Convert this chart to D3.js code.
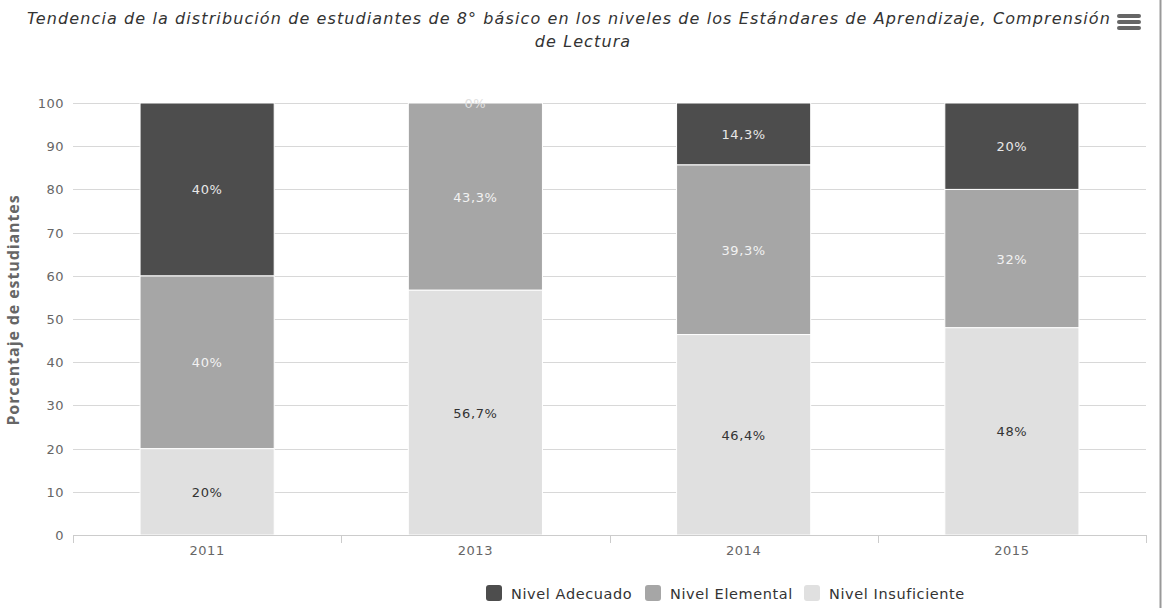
<html>
<head>
<meta charset="utf-8">
<script src="https://d3js.org/d3.v7.min.js"></script>
<style>
  body { margin: 0; background: #fff; }
  text { font-family: "DejaVu Sans", Verdana, sans-serif; }
</style>
</head>
<body>
<svg width="1164" height="608"></svg>
<script>
// datos del grafico
var years = ["2011", "2013", "2014", "2015"];
var series = ["Nivel Adecuado", "Nivel Elemental", "Nivel Insuficiente"];
var adecuado = [40, 0, 14.3, 20];
var elemental = [40, 43.3, 39.3, 32];
var insuficiente = [20, 56.7, 46.4, 48];
var yTicks = [0, 10, 20, 30, 40, 50, 60, 70, 80, 90, 100];

var colors = { "Nivel Adecuado": "#4d4d4d", "Nivel Elemental": "#a6a6a6", "Nivel Insuficiente": "#e0e0e0" };
var labelColors = { "Nivel Adecuado": "#e8e8e8", "Nivel Elemental": "#f2f2f2", "Nivel Insuficiente": "#333" };

var svg = d3.select("svg");
var plotLeft = 73, plotRight = 1146, plotTop = 103, plotBottom = 535;

var rows = years.map(function(y, i) {
  return { year: y, "Nivel Insuficiente": insuficiente[i], "Nivel Elemental": elemental[i], "Nivel Adecuado": adecuado[i] };
});
// insuficiente abajo, adecuado arriba
var stack = d3.stack().keys(["Nivel Insuficiente", "Nivel Elemental", "Nivel Adecuado"]);
var stacked = stack(rows);

var x = d3.scaleBand().domain(years).range([plotLeft, plotRight]).paddingInner(0.5).paddingOuter(0.25);
var y = d3.scaleLinear().domain([0, 100]).range([plotBottom, plotTop]);

// grid
svg.append("g").selectAll("line").data(yTicks.slice(1)).enter().append("line")
  .attr("x1", plotLeft).attr("x2", plotRight)
  .attr("y1", d => Math.round(y(d)) + 0.5).attr("y2", d => Math.round(y(d)) + 0.5)
  .attr("stroke", "#d8d8d8").attr("stroke-width", 1);

// y labels
svg.append("g").selectAll("text").data(yTicks).enter().append("text")
  .attr("x", 64).attr("y", d => y(d) + 5)
  .attr("text-anchor", "end").attr("fill", "#666").style("font-size", "13px").style("letter-spacing", "0.5px")
  .text(d => d);

// bars
var groups = svg.append("g").selectAll("g").data(stacked).enter().append("g")
  .attr("fill", d => colors[d.key]);
groups.selectAll("rect").data(d => d).enter().append("rect")
  .attr("x", d => x(d.data.year))
  .attr("y", d => y(d[1]))
  .attr("width", x.bandwidth())
  .attr("height", d => y(d[0]) - y(d[1]))
  .attr("stroke", "#fff").attr("stroke-width", 1);

// bar labels
stacked.forEach(function(s) {
  svg.append("g").selectAll("text").data(s).enter().append("text")
    .attr("x", d => x(d.data.year) + x.bandwidth() / 2)
    .attr("y", d => y((d[0] + d[1]) / 2) + 5)
    .attr("text-anchor", "middle")
    .attr("fill", d => (d[1] - d[0]) === 0 ? "#e0e0e0" : labelColors[s.key])
    .style("font-size", "13px").style("letter-spacing", "0.6px")
    .text(d => String(+(d[1] - d[0]).toFixed(1)).replace(".", ",") + "%");
});

// x axis
var xAxis = svg.append("g");
xAxis.append("line").attr("x1", plotLeft).attr("x2", plotRight).attr("y1", plotBottom + 0.5).attr("y2", plotBottom + 0.5)
  .attr("stroke", "#ccc");
var bounds = years.map(d => x(d) - x.step() * 0.25).concat([plotRight]);
xAxis.selectAll("line.tick").data(bounds).enter().append("line").attr("class", "tick")
  .attr("x1", d => Math.round(d) + 0.5).attr("x2", d => Math.round(d) + 0.5)
  .attr("y1", plotBottom).attr("y2", plotBottom + 8).attr("stroke", "#ccc");
xAxis.selectAll("text").data(years).enter().append("text")
  .attr("x", d => x(d) + x.bandwidth() / 2).attr("y", plotBottom + 20)
  .attr("text-anchor", "middle").attr("fill", "#666").style("font-size", "13px").style("letter-spacing", "0.6px")
  .text(d => d);

// y title
svg.append("text")
  .attr("transform", "translate(19,310) rotate(-90)")
  .attr("text-anchor", "middle").attr("fill", "#666")
  .style("font-family", "'Open Sans', sans-serif").style("font-weight", "bold").style("font-size", "16px")
  .style("letter-spacing", "0.9px")
  .text("Porcentaje de estudiantes");

// title
var title = svg.append("text").attr("text-anchor", "middle").attr("fill", "#333")
  .style("font-style", "italic").style("font-size", "16px").style("letter-spacing", "1.1px");
title.append("tspan").attr("x", 569).attr("y", 24)
  .text("Tendencia de la distribución de estudiantes de 8° básico en los niveles de los Estándares de Aprendizaje, Comprensión");
title.append("tspan").attr("x", 583).attr("y", 47).text("de Lectura");

// menu icon
svg.append("g").selectAll("rect").data([0, 1, 2]).enter().append("rect")
  .attr("x", 1117).attr("y", d => 14 + d * 6).attr("width", 24).attr("height", 4).attr("rx", 2)
  .attr("fill", "#666");

// right border
svg.append("line").attr("x1", 1160.5).attr("x2", 1160.5).attr("y1", 0).attr("y2", 608)
  .attr("stroke", "#999").attr("stroke-width", 2);

// legend
var legendX = [486, 645, 804];
var legend = svg.append("g").selectAll("g").data(series).enter().append("g")
  .attr("transform", (d, i) => "translate(" + legendX[i] + ",585)");
legend.append("rect").attr("width", 16).attr("height", 16).attr("rx", 3)
  .attr("fill", d => colors[d]);
legend.append("text").attr("x", 25).attr("y", 14).attr("fill", "#333")
  .style("font-size", "14.5px").style("letter-spacing", "0.6px").text(d => d);
</script>
</body>
</html>
